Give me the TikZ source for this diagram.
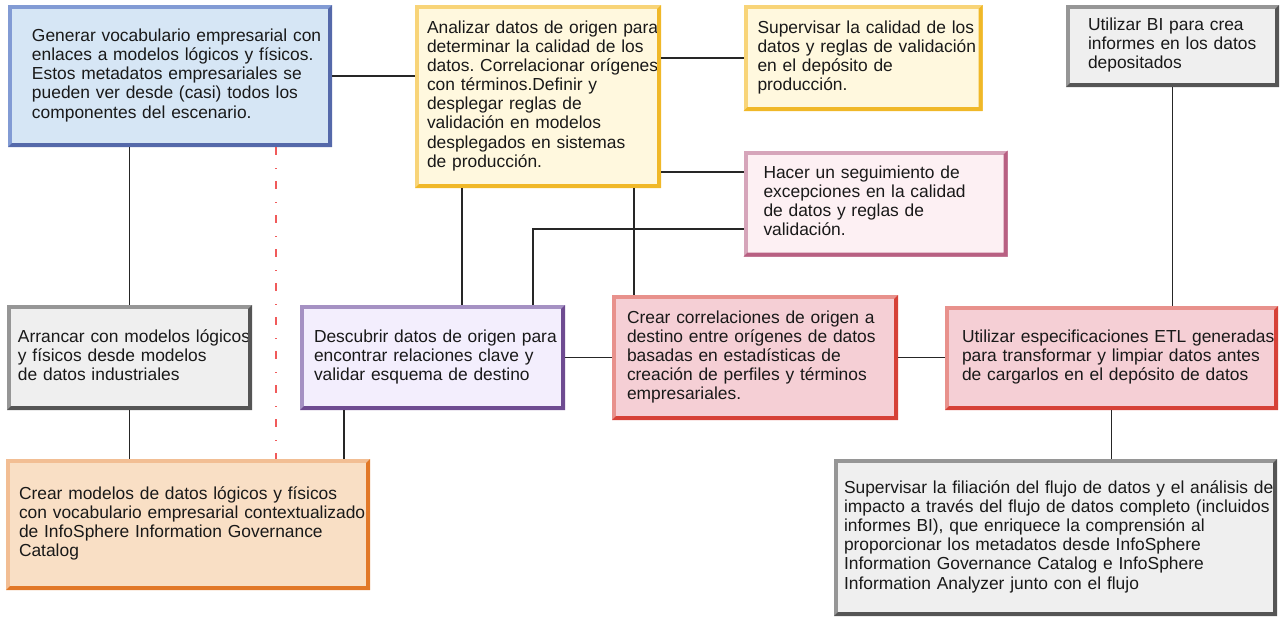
\documentclass[tikz,border=0pt]{standalone}
\usepackage{fontspec}
\setmainfont{Liberation Sans}
\frenchspacing

\newcommand{\tasklines}[1]{\noindent\begin{tabular}{@{}l@{}}#1\end{tabular}}

\begin{document}
\begin{tikzpicture}[x=0.5pt, y=-0.5pt]

\definecolor{vocfill}{RGB}{214, 230, 245}
\definecolor{vocline}{RGB}{130, 155, 212}
\definecolor{vocdark}{RGB}{85, 105, 170}
\definecolor{yellowfill}{RGB}{255, 248, 222}
\definecolor{yellowline}{RGB}{248, 212, 120}
\definecolor{yellowdark}{RGB}{240, 184, 40}
\definecolor{pinkfill}{RGB}{253, 240, 243}
\definecolor{pinkline}{RGB}{214, 165, 186}
\definecolor{pinkdark}{RGB}{184, 96, 130}
\definecolor{grayfill}{RGB}{239, 239, 239}
\definecolor{grayline}{RGB}{150, 150, 150}
\definecolor{graydark}{RGB}{85, 85, 85}
\definecolor{purplefill}{RGB}{243, 238, 253}
\definecolor{purpleline}{RGB}{165, 145, 195}
\definecolor{purpledark}{RGB}{110, 75, 145}
\definecolor{redfill}{RGB}{245, 207, 213}
\definecolor{redline}{RGB}{232, 145, 140}
\definecolor{reddark}{RGB}{214, 65, 55}
\definecolor{orangefill}{RGB}{249, 223, 197}
\definecolor{orangeline}{RGB}{242, 190, 148}
\definecolor{orangedark}{RGB}{226, 120, 40}
\definecolor{tracered}{RGB}{240, 90, 90}

\useasboundingbox (0,0) rectangle (1281,618);

\tikzset{
    task box/.style 2 args={
        draw=#1, fill=#2, line width=2pt,
        rectangle, inner sep=0pt, align=left,
        font=\fontsize{8.7}{9.55}\selectfont, text=black!90
    },
    link/.style={
        draw=black!85, line width=0.6pt
    },
    trace/.style={
        draw=tracered, line width=1pt,
        dash pattern=on 4pt off 6.5pt on 0.5pt off 6pt
    }
}

% TOP ROW
\node[task box={vocline}{vocfill}, minimum width=160pt, minimum height=69pt, text width=138pt] (voc) at (170,76)
    {\tasklines{Generar vocabulario empresarial con\\enlaces a modelos lógicos y físicos.\\Estos metadatos empresariales se\\pueden ver desde (casi) todos los\\componentes del escenario.}};
\node[task box={yellowline}{yellowfill}, minimum width=121pt, minimum height=89.5pt, text width=111pt] (analizar) at (538,96.5)
    {\tasklines{Analizar datos de origen para\\determinar la calidad de los\\datos. Correlacionar orígenes\\con términos.Definir y\\desplegar reglas de\\validación en modelos\\desplegados en sistemas\\de producción.}};
\node[task box={yellowline}{yellowfill}, minimum width=117.5pt, minimum height=51pt, text width=105.5pt] (supervisar) at (863,58)
    {\tasklines{Supervisar la calidad de los\\datos y reglas de validación\\en el depósito de\\producción.}};
\node[task box={grayline}{grayfill}, minimum width=104.5pt, minimum height=39pt, text width=84.5pt] (bi) at (1172.5,46)
    {\tasklines{Utilizar BI para crea\\informes en los datos\\depositados}};
\node[task box={pinkline}{pinkfill}, minimum width=130pt, minimum height=51pt, text width=112pt] (hacer) at (875.5,203.5)
    {\tasklines{Hacer un seguimiento de\\excepciones en la calidad\\de datos y reglas de\\validación.}};

% MIDDLE ROW
\node[task box={grayline}{grayfill}, minimum width=120.5pt, minimum height=50.5pt, text width=111.5pt] (arrancar) at (129.5,357.5)
    {\tasklines{Arrancar con modelos lógicos\\y físicos desde modelos\\de datos industriales}};
\node[task box={purpleline}{purplefill}, minimum width=130.5pt, minimum height=50.5pt, text width=118.5pt] (descubrir) at (432.5,357.5)
    {\tasklines{Descubrir datos de origen para\\encontrar relaciones clave y\\validar esquema de destino}};
\node[task box={redline}{redfill}, minimum width=141pt, minimum height=60.5pt, text width=128pt] (correl) at (755,357.5)
    {\tasklines{Crear correlaciones de origen a\\destino entre orígenes de datos\\basadas en estadísticas de\\creación de perfiles y términos\\empresariales.}};
\node[task box={redline}{redfill}, minimum width=164.5pt, minimum height=50pt, text width=149.5pt] (etl) at (1111.5,358)
    {\tasklines{Utilizar especificaciones ETL generadas\\para transformar y limpiar datos antes\\de cargarlos en el depósito de datos}};

% BOTTOM ROW
\node[task box={orangeline}{orangefill}, minimum width=180pt, minimum height=63.5pt, text width=169pt] (modelos) at (188,524.5)
    {\tasklines{Crear modelos de datos lógicos y físicos\\con vocabulario empresarial contextualizado\\de InfoSphere Information Governance\\Catalog}};
\node[task box={grayline}{grayfill}, minimum width=219.5pt, minimum height=76.5pt, text width=211.5pt] (filiacion) at (1055.5,537.5)
    {\tasklines{Supervisar la filiación del flujo de datos y el análisis de\\impacto a través del flujo de datos completo (incluidos\\informes BI), que enriquece la comprensión al\\proporcionar los metadatos desde InfoSphere\\Information Governance Catalog e InfoSphere\\Information Analyzer junto con el flujo}};

% darker lower and right edges
\foreach \n/\c in {voc/vocdark, analizar/yellowdark, supervisar/yellowdark, bi/graydark, hacer/pinkdark,
                   arrancar/graydark, descubrir/purpledark, correl/reddark, etl/reddark,
                   modelos/orangedark, filiacion/graydark}
    \fill[\c] (\n.south west) -- (\n.south east) -- (\n.north east)
        -- ([shift={(-2pt,-2pt)}]\n.north east) -- ([shift={(-2pt,2pt)}]\n.south east)
        -- ([shift={(2pt,2pt)}]\n.south west) -- cycle;

% --- CONNECTORS ---
\draw[link] (voc.east) -- (voc.east -| analizar.west);
\draw[link] (supervisar.west -| analizar.east) -- (supervisar.west);
\draw[link] (analizar.east |- 0,172) -- (hacer.west |- 0,172);
\draw[link] (hacer.west |- 0,229) -| (533,0 |- descubrir.north);
\draw[link] (462,0 |- analizar.south) -- (462,0 |- descubrir.north);
\draw[link] (634,0 |- analizar.south) -- (634,0 |- correl.north);
\draw[link] (arrancar.north |- voc.south) -- (arrancar.north);
\draw[link] (arrancar.south) -- (arrancar.south |- modelos.north);
\draw[link] (344,0 |- descubrir.south) -- (344,0 |- modelos.north);
\draw[link] (descubrir.east) -- (descubrir.east -| correl.west);
\draw[link] (correl.east) -- (correl.east -| etl.west);
\draw[link] (bi.south) -- (bi.south |- etl.north);
\draw[link] (etl.south) -- (etl.south |- filiacion.north);

% dash-dot trace
\draw[trace] (276,0 |- voc.south) -- (276,0 |- modelos.north);

\end{tikzpicture}
\end{document}
